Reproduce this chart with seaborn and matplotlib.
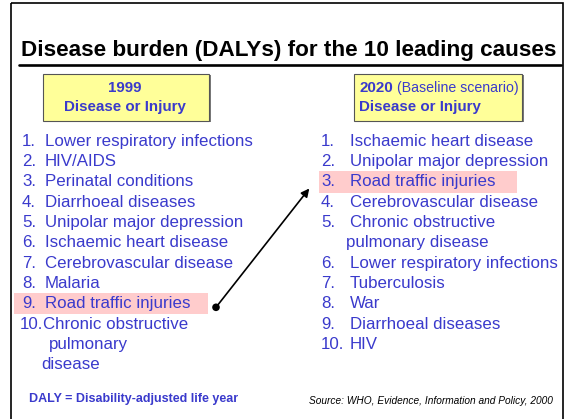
import matplotlib.pyplot as plt
import seaborn as sns
from matplotlib.patches import Rectangle

# slide content
title = "Disease burden (DALYs) for the 10 leading causes"
year_left = "1999"
year_right = "2020"
scenario_right = "(Baseline scenario)"
header = "Disease or Injury"

causes_1999 = ["Lower respiratory infections", "HIV/AIDS", "Perinatal conditions",
               "Diarrhoeal diseases", "Unipolar major depression",
               "Ischaemic heart disease", "Cerebrovascular disease", "Malaria",
               "Road traffic injuries", "Chronic obstructive"]
causes_1999_extra = ["pulmonary", "disease"]

causes_2020 = ["Ischaemic heart disease", "Unipolar major depression",
               "Road traffic injuries", "Cerebrovascular disease",
               "Chronic obstructive", "Lower respiratory infections",
               "Tuberculosis", "War", "Diarrhoeal diseases", "HIV"]
# extra wrapped line after rank 5 on the right
causes_2020_wrap = {5: "pulmonary disease"}

highlight = "Road traffic injuries"
footnote = "DALY = Disability-adjusted life year"
source = "Source: WHO, Evidence, Information and Policy, 2000"

sns.set_theme(style="white")
plt.rcParams['font.family'] = ['Liberation Sans', 'DejaVu Sans']

blue = "#3a3acc"
pink = "#ffcccc"
yellow = "#ffff99"

fig = plt.figure(figsize=(5.7, 4.19), dpi=100)
ax = fig.add_axes([0, 0, 1, 1])
ax.set_xlim(0, 570)
ax.set_ylim(419, 0)
ax.axis("off")

# slide frame
ax.add_patch(Rectangle((10.5, 3), 552.5, 430, fill=False, ec="black", lw=1.2))

# title + rule
ax.text(289, 50.5, title, fontsize=16.2, fontweight="bold", ha="center", va="center", color="black")
ax.plot([19, 561], [65, 65], color="black", lw=1.9)

# header boxes
for x0, w in ((43, 166), (354, 168)):
    ax.add_patch(Rectangle((x0 + 1.5, 75.5), w, 47, fc="#7a7a7a", ec="none"))
    ax.add_patch(Rectangle((x0, 74), w, 47, fc=yellow, ec="#555555", lw=0.8))

ax.text(125, 88, year_left, fontsize=10.9, fontweight="bold", color=blue, ha="center", va="center")
ax.text(125, 107, header, fontsize=10.9, fontweight="bold", color=blue, ha="center", va="center")
t = ax.text(359, 88, year_right, fontsize=10.9, fontweight="bold", color=blue, ha="left", va="center")
ax.annotate(scenario_right, xy=(1, 0.5), xycoords=t, xytext=(3, 0), textcoords="offset points",
            fontsize=10.2, color=blue, ha="left", va="center")
ax.text(359, 107, header, fontsize=10.9, fontweight="bold", color=blue, ha="left", va="center")

fs = 12.2
step = 20.3
y0 = 141.3

# left list
for i, name in enumerate(causes_1999):
    y = y0 + i * step
    if name == highlight:
        ax.add_patch(Rectangle((14, y - 11), 194, 21.5, fc=pink, ec="none"))
        dot_y = y + 3.6
    num = f"{i + 1}." if i < 9 else "10."
    tx = 45 if i < 9 else 43
    ax.text(22 if i < 9 else 20, y, num, fontsize=fs, color=blue, va="center")
    ax.text(tx, y, name, fontsize=fs, color=blue, va="center")
ax.text(49, y0 + 10 * step, causes_1999_extra[0], fontsize=fs, color=blue, va="center")
ax.text(41, y0 + 11 * step, causes_1999_extra[1], fontsize=fs, color=blue, va="center")

# right list
row = 0
for i, name in enumerate(causes_2020):
    y = y0 + row * step
    if name == highlight:
        ax.add_patch(Rectangle((319, y - 10.5), 198, 22, fc=pink, ec="none"))
        tip_y = y + 4.4
    ax.text(321, y, f"{i + 1}.", fontsize=fs, color=blue, va="center")
    ax.text(350, y, name, fontsize=fs, color=blue, va="center")
    row += 1
    if (i + 1) in causes_2020_wrap:
        ax.text(346, y0 + row * step, causes_2020_wrap[i + 1], fontsize=fs, color=blue, va="center")
        row += 1

# arrow from 1999 rank to 2020 rank
sns.scatterplot(x=[216], y=[dot_y], color="black", s=30, ax=ax, zorder=5, edgecolor="none")
ax.annotate("", xy=(311, tip_y), xytext=(216, dot_y),
            arrowprops=dict(arrowstyle="-|>", color="black", lw=1.2, mutation_scale=12))

# footer
ax.text(29, 399, footnote, fontsize=9, fontweight="bold", color=blue, ha="left", va="center")
ax.text(553, 401, source, fontsize=7.3, style="italic", color="black", ha="right", va="center")

fig.savefig("out.png", dpi=100)
